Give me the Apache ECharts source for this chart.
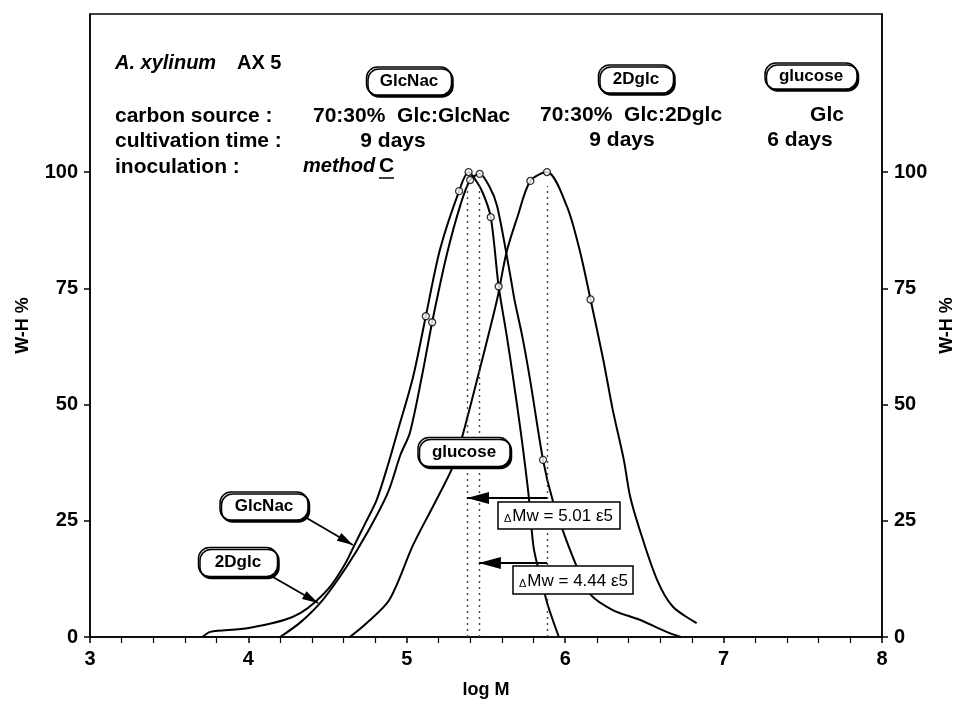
<!DOCTYPE html>
<html>
<head>
<meta charset="utf-8">
<script src="https://cdn.jsdelivr.net/npm/echarts@6/dist/echarts.min.js"></script>
<style>
html, body { margin: 0; padding: 0; background: #fff; }
#chart { width: 965px; height: 715px; }
</style>
</head>
<body>
<div id="chart"></div>
<script>
// GPC curves, A. xylinum AX 5 : log M vs W-H %
var yTicks = [0, 25, 50, 75, 100];

var glcnacCurve = [
    [3.71, 0], [3.76, 1.1], [3.95, 1.7], [4.10, 2.6], [4.23, 3.7], [4.33, 5.2], [4.42, 7.5],
    [4.52, 11.0], [4.61, 15.7], [4.67, 19.8], [4.74, 24.6], [4.81, 29.5], [4.88, 36.9],
    [4.94, 44.0], [5.04, 56.0], [5.12, 69.0], [5.21, 83.4], [5.33, 95.9], [5.39, 100],
    [5.43, 98.5], [5.48, 95.5], [5.53, 90.3], [5.58, 75.4], [5.63, 65.0], [5.67, 56.0],
    [5.72, 44.0], [5.77, 30.2], [5.80, 19.4], [5.84, 13.4], [5.89, 6.9], [5.96, 0]
];
var dglcCurve = [
    [4.20, 0], [4.33, 3.2], [4.47, 8.0], [4.62, 15.1], [4.75, 22.4], [4.88, 31.0], [4.96, 39.2],
    [5.02, 44.0], [5.10, 56.9], [5.16, 67.7], [5.25, 81.9], [5.34, 93.1], [5.40, 98.3],
    [5.46, 99.6], [5.52, 97.0], [5.57, 92.7], [5.65, 78.4], [5.68, 72.5], [5.73, 64.5],
    [5.78, 55.0], [5.86, 38.1], [5.92, 29.5], [6.00, 21.5], [6.09, 13.8], [6.16, 9.1],
    [6.30, 5.8], [6.47, 3.7], [6.64, 1.1], [6.73, 0]
];
var glucoseCurve = [
    [4.64, 0], [4.74, 2.8], [4.89, 8.0], [5.04, 19.8], [5.17, 28.4], [5.29, 36.6], [5.35, 43.1],
    [5.46, 57.5], [5.57, 72.6], [5.63, 82.8], [5.70, 90.5], [5.78, 98.1], [5.885, 100],
    [6.01, 92.7], [6.09, 83.4], [6.16, 72.6], [6.24, 59.7], [6.30, 48.9], [6.37, 38.1],
    [6.41, 30.2], [6.47, 23.1], [6.58, 12.3], [6.68, 6.5], [6.83, 3.0]
];

// open circles on the curves
var glcnacMarks = [[5.12, 69.0], [5.33, 95.9], [5.39, 100], [5.53, 90.3], [5.58, 75.4]];
var dglcMarks = [[5.16, 67.7], [5.40, 98.3], [5.46, 99.6], [5.86, 38.1]];
var glucoseMarks = [[5.78, 98.1], [5.885, 100], [6.16, 72.6]];

// peak positions (dotted) and the delta Mw arrows
var peakLines = [5.38, 5.455, 5.885];
var peakTop = 97;
var deltaArrows = [[5.885, 29.9, 5.38], [5.885, 15.9, 5.455]];
var deltaTexts = ['5.01 \u03b55', '4.44 \u03b55'];
// label arrows: [fromX, fromY, toX, toY]
var labelArrows = [[4.357, 25.8, 4.66, 19.8], [4.136, 13.3, 4.44, 7.3]];

var FONT = '"Liberation Sans", Arial, sans-serif';
var chart = echarts.init(document.getElementById('chart'));

function txt(x, y, s, font, align) {
    return {
        type: 'text', z: 110, x: x, y: y,
        style: { text: s, font: font, fill: '#000', align: align || 'left', verticalAlign: 'middle' }
    };
}
function oval(cx, cy, w, h, s) {
    return [{
        type: 'rect', z: 105,
        shape: { x: cx - w / 2, y: cy - h / 2, width: w, height: h, r: 11 },
        style: { fill: '#fff', stroke: '#000', lineWidth: 1.5, shadowColor: '#000', shadowOffsetX: 1.5, shadowOffsetY: 2, shadowBlur: 0 }
    }, txt(cx, cy, s, 'bold 17px ' + FONT, 'center')];
}
function deltaBox(x, y, w, h, s) {
    return [{
        type: 'rect', z: 105,
        shape: { x: x, y: y, width: w, height: h },
        style: { fill: '#fff', stroke: '#000', lineWidth: 1.5 }
    }, {
        type: 'text', z: 110, x: x + 6, y: y + h / 2 + 1,
        style: {
            text: '{d|\u0394}{n|Mw = ' + s + '}',
            verticalAlign: 'middle',
            rich: {
                d: { font: '11px ' + FONT, fill: '#000', padding: [5, 1, 0, 0] },
                n: { font: '17px ' + FONT, fill: '#000' }
            }
        }
    }];
}

var bold = 'bold 21px ' + FONT;
var graphics = [
    txt(115, 63, 'A. xylinum', 'italic bold 20px ' + FONT),
    txt(237, 63, 'AX 5', 'bold 20px ' + FONT),
    txt(115, 116, 'carbon source :', bold),
    txt(313, 116, '70:30%  Glc:GlcNac', bold),
    txt(540, 115, '70:30%  Glc:2Dglc', bold),
    txt(827, 115, 'Glc', bold, 'center'),
    txt(115, 141, 'cultivation time :', bold),
    txt(393, 141, '9 days', bold, 'center'),
    txt(622, 140, '9 days', bold, 'center'),
    txt(800, 140, '6 days', bold, 'center'),
    txt(115, 167, 'inoculation :', bold),
    txt(303, 166, 'method', 'italic bold 20px ' + FONT),
    txt(379, 166, 'C', bold),
    { type: 'line', z: 110, shape: { x1: 379, y1: 178, x2: 394, y2: 178 }, style: { stroke: '#000', lineWidth: 1.5 } }
]
    .concat(oval(409, 81, 85, 28, 'GlcNac'))
    .concat(oval(636, 79, 75, 28, '2Dglc'))
    .concat(oval(811, 76, 92, 26, 'glucose'))
    .concat(oval(264, 506, 88, 28, 'GlcNac'))
    .concat(oval(238, 562, 79, 29, '2Dglc'))
    .concat(oval(464, 452, 92, 29, 'glucose'))
    .concat(deltaBox(498, 502, 122, 27, deltaTexts[0]))
    .concat(deltaBox(513, 566, 120, 28, deltaTexts[1]));

var markData = [];
peakLines.forEach(function (x) {
    markData.push([
        { coord: [x, 0], symbol: 'none' },
        { coord: [x, peakTop], symbol: 'none', lineStyle: { type: [2, 4], width: 1.4, color: '#444' } }
    ]);
});
deltaArrows.forEach(function (a) {
    markData.push([
        { coord: [a[0], a[1]], symbol: 'none' },
        { coord: [a[2], a[1]], symbol: 'triangle', symbolSize: [12, 22], symbolOffset: [0, 11],
          lineStyle: { type: 'solid', width: 2, color: '#000' } }
    ]);
});
labelArrows.forEach(function (a) {
    markData.push([
        { coord: [a[0], a[1]], symbol: 'none' },
        { coord: [a[2], a[3]], symbol: 'triangle', symbolSize: [9, 16], symbolOffset: [0, 8],
          lineStyle: { type: 'solid', width: 1.8, color: '#000' } }
    ]);
});

function curve(name, data) {
    return {
        name: name, type: 'line', data: data, smooth: 0.3, showSymbol: false, z: 3,
        lineStyle: { color: '#000', width: 2 }, itemStyle: { color: '#000' },
        emphasis: { disabled: true }, silent: true
    };
}
function marks(name, data) {
    return {
        name: name, type: 'scatter', data: data, symbol: 'circle', symbolSize: 7, z: 5,
        itemStyle: { color: '#fff', borderColor: '#000', borderWidth: 1.3 }, silent: true
    };
}

var black = { color: '#000', width: 1.5 };
var tickFont = { color: '#000', fontFamily: FONT, fontWeight: 'bold', fontSize: 20 };

var series = [
    curve('GlcNac', glcnacCurve),
    curve('2Dglc', dglcCurve),
    curve('glucose', glucoseCurve),
    marks('GlcNac marks', glcnacMarks),
    marks('2Dglc marks', dglcMarks),
    marks('glucose marks', glucoseMarks)
];
series[2].markLine = {
    silent: true, animation: false, symbol: ['none', 'none'],
    label: { show: false }, emphasis: { disabled: true },
    data: markData
};

chart.setOption({
    animation: false,
    backgroundColor: '#fff',
    grid: { left: 90, right: 83, top: 14, bottom: 78, show: true, borderColor: '#000', borderWidth: 1.5 },
    xAxis: {
        type: 'value', min: 3, max: 8, interval: 1,
        name: 'log M', nameLocation: 'middle', nameGap: 44,
        nameTextStyle: { color: '#000', fontFamily: FONT, fontWeight: 'bold', fontSize: 18 },
        axisLine: { show: true, onZero: false, lineStyle: black },
        axisTick: { show: true, length: 6, lineStyle: black },
        minorTick: { show: true, splitNumber: 5, length: 6, lineStyle: { color: '#000', width: 1.2 } },
        axisLabel: Object.assign({ margin: 12 }, tickFont),
        splitLine: { show: false }
    },
    yAxis: [{
        type: 'value', min: 0, max: 134, position: 'left',
        name: 'W-H %', nameLocation: 'middle', nameGap: 58, nameRotate: 90,
        nameTextStyle: { color: '#000', fontFamily: FONT, fontWeight: 'bold', fontSize: 18 },
        axisLine: { show: true, lineStyle: black },
        axisTick: { show: true, length: 6, lineStyle: black, customValues: yTicks },
        axisLabel: Object.assign({ margin: 12, customValues: yTicks }, tickFont),
        splitLine: { show: false }
    }, {
        type: 'value', min: 0, max: 134, position: 'right',
        name: 'W-H %', nameLocation: 'middle', nameGap: 55, nameRotate: 90,
        nameTextStyle: { color: '#000', fontFamily: FONT, fontWeight: 'bold', fontSize: 18 },
        axisLine: { show: true, lineStyle: black },
        axisTick: { show: true, length: 6, lineStyle: black, customValues: yTicks },
        axisLabel: Object.assign({ margin: 12, customValues: yTicks }, tickFont),
        splitLine: { show: false }
    }],
    series: series,
    graphic: graphics
});
</script>
</body>
</html>
